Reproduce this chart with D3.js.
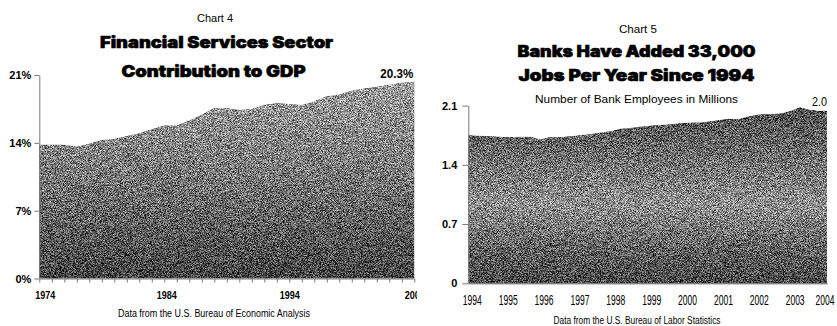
<!DOCTYPE html>
<html>
<head>
<meta charset="utf-8">
<script src="https://cdn.jsdelivr.net/npm/d3@7"></script>
<style>
  html, body { margin: 0; padding: 0; background: #fff; }
  svg { display: block; }
  text { font-family: "Liberation Sans", Arial, sans-serif; fill: #000; }
  .heavy { font-family: "Inter", "Roboto", "DejaVu Sans", sans-serif; font-weight: 900;
           stroke: #000; stroke-width: 0.6px; }
</style>
</head>
<body>
<svg id="chart" width="837" height="326"></svg>
<script>
// ---- Chart 4: financial services sector share of GDP (annual, %) ----
const gdpYears = d3.range(1974, 2005);
const gdpShare = [13.8, 13.8, 13.8, 13.6, 13.9, 14.3, 14.4, 14.7, 15.0, 15.4,
                  15.8, 15.8, 16.3, 16.9, 17.6, 17.6, 17.4, 17.5, 17.9, 18.1,
                  18.0, 17.9, 18.3, 18.8, 19.0, 19.4, 19.6, 19.8, 20.0, 20.2, 20.3];
const gdpTicks = [0, 7, 14, 21];
const gdpLabelYears = [1974, 1984, 1994, 2004];

// ---- Chart 5: bank employees in millions (quarterly) ----
const empPeriods = d3.range(0, 41).map(i => 1994 + i / 4);
const empValues = [1.75, 1.745, 1.74, 1.735, 1.73, 1.73, 1.733, 1.733,
                   1.70, 1.725, 1.727, 1.735, 1.745, 1.755, 1.77, 1.785,
                   1.80, 1.825, 1.835, 1.85, 1.86, 1.87, 1.875, 1.885,
                   1.895, 1.90, 1.90, 1.915, 1.93, 1.945, 1.94, 1.965,
                   1.99, 2.0, 2.0, 2.01, 2.04, 2.08, 2.05, 2.04, 2.04];
const empTicks = [0, 0.7, 1.4, 2.1];
const empLabelYears = d3.range(1994, 2005);

const svg = d3.select("#chart");
const defs = svg.append("defs");

// grainy fill: gradient + per-pixel noise, kept inside the shape
const grain = defs.append("filter").attr("id", "grain")
  .attr("x", "0%").attr("y", "0%").attr("width", "100%").attr("height", "100%")
  .attr("color-interpolation-filters", "sRGB");
grain.append("feTurbulence").attr("type", "fractalNoise")
  .attr("baseFrequency", 1.4).attr("numOctaves", 1).attr("seed", 7).attr("result", "fine");
grain.append("feColorMatrix").attr("in", "fine").attr("type", "matrix")
  .attr("values", "2.5 0 0 0 -0.75  2.5 0 0 0 -0.75  2.5 0 0 0 -0.75  0 0 0 0 1")
  .attr("result", "fineGray");
grain.append("feComposite").attr("in", "SourceGraphic").attr("in2", "fineGray")
  .attr("operator", "arithmetic").attr("k1", 0).attr("k2", 1).attr("k3", 0.7).attr("k4", -0.35)
  .attr("result", "mix");
grain.append("feComposite").attr("in", "mix").attr("in2", "SourceGraphic").attr("operator", "in");

function gradient(id, stops) {
  const g = defs.append("linearGradient").attr("id", id)
    .attr("x1", 0).attr("y1", 0).attr("x2", 0).attr("y2", 1);
  stops.forEach(([o, c]) => g.append("stop").attr("offset", o).attr("stop-color", c));
}
gradient("fill4", [[0, "#9c9c9c"], [0.4, "#7e7e7e"], [0.75, "#5c5c5c"], [1, "#424242"]]);
gradient("fill5", [[0, "#505050"], [0.25, "#6a6a6a"], [0.55, "#909090"], [0.8, "#626262"], [1, "#464646"]]);

function centered(g, str, x, y, size, width, cls) {
  const t = g.append("text").attr("x", x).attr("y", y)
    .attr("text-anchor", "middle").attr("font-size", size).text(str);
  if (cls) t.attr("class", cls);
  if (width) t.attr("textLength", width).attr("lengthAdjust", "spacingAndGlyphs");
  return t;
}

// ================= Chart 4 =================
defs.append("clipPath").attr("id", "clip4")
  .append("rect").attr("x", 0).attr("y", 0).attr("width", 417).attr("height", 326);
const g4 = svg.append("g").attr("clip-path", "url(#clip4)");

const x4 = d3.scaleLinear().domain([1974, 2004]).range([39.3, 414.3]);
const y4 = d3.scaleLinear().domain([0, 21]).range([278.5, 75]);

centered(g4, "Chart 4", 215, 22, 11, 36);
centered(g4, "Financial Services Sector", 216.5, 48, 16, 233, "heavy");
centered(g4, "Contribution to GDP", 213.5, 77, 16, 184, "heavy");

const area4 = d3.area().x((d, i) => x4(gdpYears[i])).y0(y4(0)).y1(d => y4(d));
g4.append("path").datum(gdpShare).attr("d", area4)
  .attr("fill", "url(#fill4)").attr("filter", "url(#grain)");

const yAxis4 = g4.append("g").attr("transform", `translate(${x4(1974)},0)`)
  .call(d3.axisLeft(y4).tickValues(gdpTicks).tickFormat(d => d + "%")
    .tickSize(5).tickSizeOuter(0).tickPadding(3));
const xAxis4 = g4.append("g").attr("transform", `translate(0,${y4(0)})`)
  .call(d3.axisBottom(x4).tickValues(gdpYears)
    .tickFormat(d => gdpLabelYears.includes(d) ? String(d) : "")
    .tickSize(4).tickSizeOuter(0).tickPadding(8.5));
[yAxis4, xAxis4].forEach(a => {
  a.selectAll("path,line").attr("stroke", "#7a7a7a");
  a.selectAll("text").attr("font-size", 11).attr("font-weight", "bold")
    .attr("font-family", "'Liberation Sans', Arial, sans-serif");
});
xAxis4.selectAll("text")
  .filter(d => gdpLabelYears.includes(d))
  .attr("textLength", 20).attr("lengthAdjust", "spacingAndGlyphs")
  .attr("dx", d => d === gdpLabelYears[0] ? 5.5 : (d === 1984 ? 2 : 0));

const last4 = gdpShare[gdpShare.length - 1];
g4.append("text")
  .attr("x", x4(2004) - 1).attr("y", y4(last4) - 4)
  .attr("text-anchor", "end").attr("font-size", 12).attr("font-weight", "bold")
  .attr("textLength", 33).attr("lengthAdjust", "spacingAndGlyphs")
  .text(d3.format(".1f")(last4) + "%");

centered(g4, "Data from the U.S. Bureau of Economic Analysis", 214, 317, 10, 192);

// ================= Chart 5 =================
const g5 = svg.append("g");
const x5 = d3.scaleLinear().domain([1994, 2004]).range([468.3, 827]);
const y5 = d3.scaleLinear().domain([0, 2.1]).range([283.3, 105.6]);

centered(g5, "Chart 5", 638, 33, 11, 38);
centered(g5, "Banks Have Added 33,000", 636.5, 56.5, 16, 238, "heavy");
centered(g5, "Jobs Per Year Since 1994", 636.5, 81, 16, 236, "heavy");
centered(g5, "Number of Bank Employees in Millions", 636.5, 103, 11.5, 203);

const area5 = d3.area().x((d, i) => x5(empPeriods[i])).y0(y5(0)).y1(d => y5(d));
g5.append("path").datum(empValues).attr("d", area5)
  .attr("fill", "url(#fill5)").attr("filter", "url(#grain)");

const yAxis5 = g5.append("g").attr("transform", `translate(${x5(1994)},0)`)
  .call(d3.axisLeft(y5).tickValues(empTicks).tickFormat(d3.format(".1~f"))
    .tickSize(6).tickSizeOuter(0).tickPadding(5));
yAxis5.selectAll("path,line").attr("stroke", "#7a7a7a");
yAxis5.selectAll("text").attr("font-size", 11).attr("font-weight", "bold")
  .attr("font-family", "'Liberation Sans', Arial, sans-serif");

const xAxis5 = g5.append("g").attr("transform", `translate(0,${y5(0)})`)
  .call(d3.axisBottom(x5).tickValues(empLabelYears).tickFormat(String)
    .tickSize(0).tickSizeOuter(0).tickPadding(11.5));
xAxis5.select(".domain").attr("stroke", "#555");
xAxis5.selectAll("text").attr("font-size", 14)
  .attr("font-family", "'Liberation Sans', Arial, sans-serif")
  .attr("textLength", 19).attr("lengthAdjust", "spacingAndGlyphs")
  .attr("dx", 3.5);
// keep the last year label inside the right edge
xAxis5.selectAll("text").filter(d => d === empLabelYears[empLabelYears.length - 1])
  .attr("text-anchor", "end").attr("dx", 0)
  .attr("x", 834 - x5(empLabelYears[empLabelYears.length - 1]));

const last5 = empValues[empValues.length - 1];
g5.append("text")
  .attr("x", x5(2004)).attr("y", y5(last5) - 4.7)
  .attr("text-anchor", "end").attr("font-size", 12)
  .attr("textLength", 15).attr("lengthAdjust", "spacingAndGlyphs")
  .text(d3.format(".1f")(last5));

centered(g5, "Data from the U.S. Bureau of Labor Statistics", 637, 324, 10, 167);
</script>
</body>
</html>
